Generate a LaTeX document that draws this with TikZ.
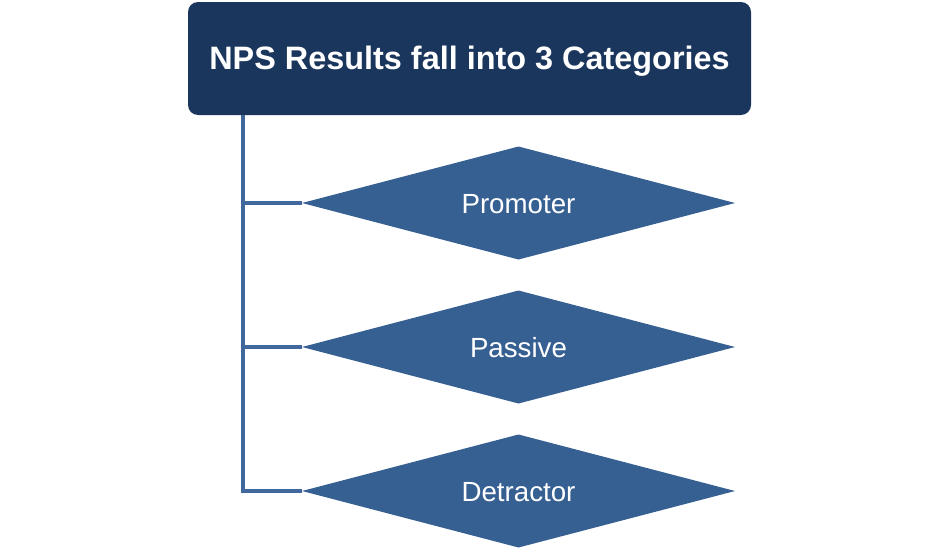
\documentclass[tikz,border=0pt]{standalone}
\usepackage{fontspec}
\setmainfont{Liberation Sans}
\usetikzlibrary{shapes.geometric}
\definecolor{navy}{RGB}{27,54,93}
\definecolor{dblue}{RGB}{55,96,146}
\definecolor{lblue}{RGB}{64,104,156}
\tikzset{
  titlebox/.style={draw=none, fill=navy, rounded corners=10pt, minimum width=563pt, minimum height=113pt, inner sep=0pt, text=white, font=\fontsize{32.4}{36}\selectfont\bfseries},
  catdiamond/.style={diamond, aspect=3.83, draw=none, fill=dblue, minimum width=433pt, minimum height=113pt, inner sep=0pt, outer sep=0pt, text=white, font=\fontsize{27.7}{32}\selectfont},
  conn/.style={draw=lblue, line width=4pt}
}
\begin{document}
\begin{tikzpicture}[x=1pt,y=-1pt]
\useasboundingbox (0,0) rectangle (940,549);
\node[titlebox] (title) at (469.5,58.5) {\raisebox{-10.5pt}[0pt][0pt]{NPS Results fall into 3 Categories}};
\node[catdiamond] (d1) at (518.5,203) {\raisebox{-10pt}[0pt][0pt]{Promoter}};
\node[catdiamond] (d2) at (518.5,347) {\raisebox{-10pt}[0pt][0pt]{Passive}};
\node[catdiamond] (d3) at (518.5,491) {\raisebox{-10pt}[0pt][0pt]{Detractor}};
\coordinate (t) at (243,115);
\draw[conn, line cap=butt] (t) |- (d3.west);
\draw[conn] (t |- d1.west) -- (d1.west);
\draw[conn] (t |- d2.west) -- (d2.west);
\end{tikzpicture}
\end{document}
